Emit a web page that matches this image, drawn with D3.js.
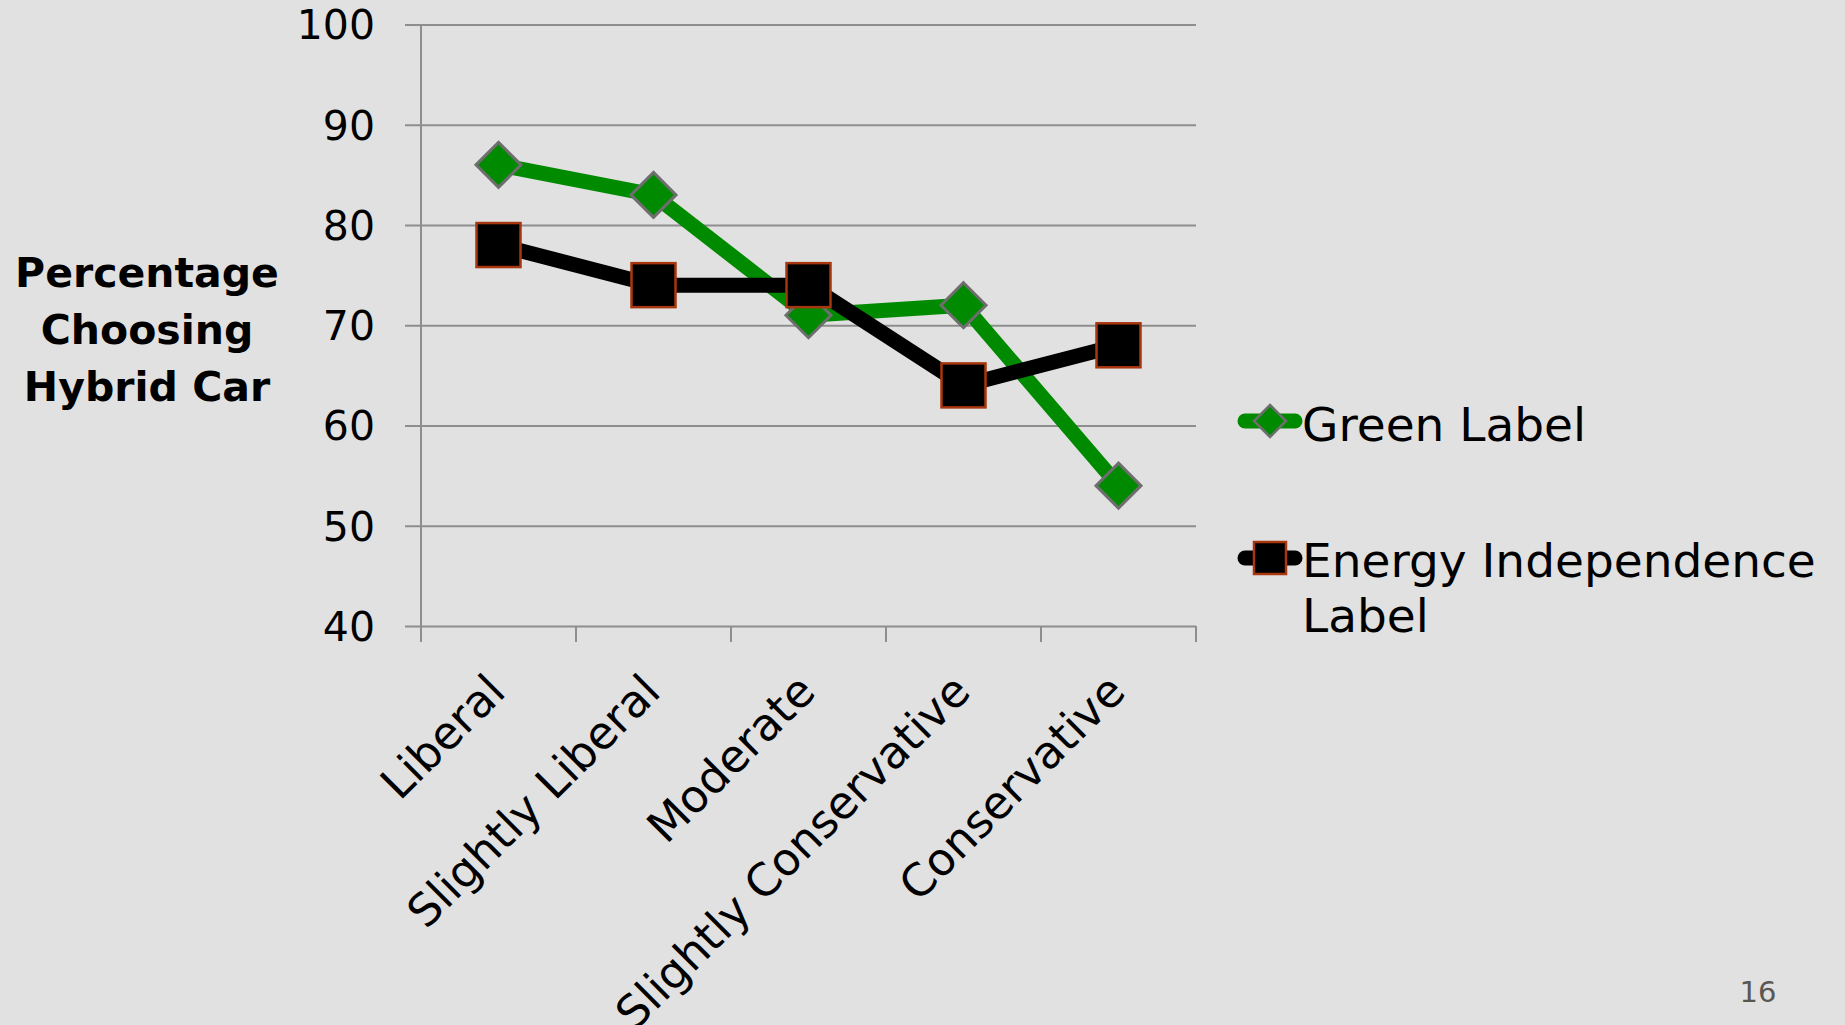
<!DOCTYPE html>
<html>
<head>
<meta charset="utf-8">
<script src="https://cdn.jsdelivr.net/npm/d3@7"></script>
<style>
  html, body { margin: 0; padding: 0; background: #e1e1e1; }
  svg { display: block; }
  text { font-family: "DejaVu Sans", sans-serif; fill: #000; }
</style>
</head>
<body>
<svg id="chart" width="1845" height="1025"></svg>
<script>
// Political leaning of respondents
const categories = ["Liberal", "Slightly Liberal", "Moderate", "Slightly Conservative", "Conservative"];
// Percentage choosing the hybrid car, by label shown
const greenLabel = [86, 83, 71, 72, 54];
const energyLabel = [78, 74, 74, 64, 68];
const yTicks = [40, 50, 60, 70, 80, 90, 100];
const seriesNames = ["Green Label", "Energy Independence Label"];
const axisTitle = ["Percentage", "Choosing", "Hybrid Car"];
const pageNumber = "16";

const svg = d3.select("#chart");
const W = 1845, H = 1025;

svg.append("rect").attr("width", W).attr("height", H).attr("fill", "#e1e1e1");

const plot = { left: 421, right: 1196, top: 24.5, bottom: 626 };

const x = d3.scaleBand().domain(categories).range([plot.left, plot.right]);
const y = d3.scaleLinear().domain([40, 100]).range([plot.bottom, plot.top]);
const cx = c => x(c) + x.bandwidth() / 2;

const gridColor = "#8e8e8e";

// horizontal gridlines with short ticks left of the axis
const yAxis = d3.axisLeft(y).tickValues(yTicks).tickSize(-(plot.right - plot.left + 16)).tickFormat("");
svg.append("g")
  .attr("transform", `translate(${plot.left - 16},0)`)
  .call(yAxis)
  .call(g => g.select(".domain").remove())
  .call(g => g.selectAll(".tick line").attr("stroke", gridColor).attr("stroke-width", 2));

// y tick labels
svg.append("g").selectAll("text").data(yTicks).join("text")
  .attr("x", 375).attr("y", d => y(d)).attr("dy", "0.36em")
  .attr("text-anchor", "end").attr("font-size", 41)
  .text(d => d);

// vertical axis line
svg.append("line")
  .attr("x1", plot.left).attr("x2", plot.left)
  .attr("y1", plot.top).attr("y2", plot.bottom + 16)
  .attr("stroke", gridColor).attr("stroke-width", 2);

// category axis: tick marks at band boundaries
const xTickPos = categories.map(c => x(c)).concat([plot.right]);
svg.append("g").selectAll("line").data(xTickPos).join("line")
  .attr("x1", d => d).attr("x2", d => d)
  .attr("y1", plot.bottom).attr("y2", plot.bottom + 16)
  .attr("stroke", gridColor).attr("stroke-width", 2);

// rotated category labels
svg.append("g").selectAll("text").data(categories).join("text")
  .attr("transform", d => `translate(${cx(d) + 9},694) rotate(-45)`)
  .attr("text-anchor", "end").attr("font-size", 45)
  .text(d => d);

// axis title
svg.append("g").selectAll("text").data(axisTitle).join("text")
  .attr("x", 147).attr("y", (d, i) => 287 + i * 57)
  .attr("text-anchor", "middle").attr("font-size", 41).attr("font-weight", "bold")
  .text(d => d);

const green = "#008a00";
const lineGen = d3.line().x((d, i) => cx(categories[i])).y(d => y(d));

const diamond = s => `M0,${-s}L${s},0L0,${s}L${-s},0Z`;

// green label series
svg.append("path").datum(greenLabel)
  .attr("d", lineGen).attr("fill", "none")
  .attr("stroke", green).attr("stroke-width", 15).attr("stroke-linejoin", "round");
svg.append("g").selectAll("path").data(greenLabel).join("path")
  .attr("transform", (d, i) => `translate(${cx(categories[i])},${y(d)})`)
  .attr("d", diamond(22.5))
  .attr("fill", green).attr("stroke", "#6e6e6e").attr("stroke-width", 3);

// energy independence label series
svg.append("path").datum(energyLabel)
  .attr("d", lineGen).attr("fill", "none")
  .attr("stroke", "#000").attr("stroke-width", 15).attr("stroke-linejoin", "round");
svg.append("g").selectAll("rect").data(energyLabel).join("rect")
  .attr("x", (d, i) => cx(categories[i]) - 22).attr("y", d => y(d) - 22)
  .attr("width", 44).attr("height", 44)
  .attr("fill", "#000").attr("stroke", "#a8360e").attr("stroke-width", 2.5);

// legend
const legend = svg.append("g");
const lg1 = legend.append("g").attr("transform", "translate(1270,421)");
lg1.append("line").attr("x1", -25).attr("x2", 25)
  .attr("stroke", green).attr("stroke-width", 15).attr("stroke-linecap", "round");
lg1.append("path").attr("d", diamond(16))
  .attr("fill", green).attr("stroke", "#6e6e6e").attr("stroke-width", 2.5);
legend.append("text").attr("x", 1302).attr("y", 441).attr("font-size", 47).text(seriesNames[0]);

const lg2 = legend.append("g").attr("transform", "translate(1270,558)");
lg2.append("line").attr("x1", -25).attr("x2", 25)
  .attr("stroke", "#000").attr("stroke-width", 15).attr("stroke-linecap", "round");
lg2.append("rect").attr("x", -16).attr("y", -16).attr("width", 32).attr("height", 32)
  .attr("fill", "#000").attr("stroke", "#a8360e").attr("stroke-width", 2.5);
const words = seriesNames[1].split(" ");
const t2 = legend.append("text").attr("x", 1302).attr("y", 577).attr("font-size", 47);
t2.append("tspan").attr("x", 1302).text(words.slice(0, 2).join(" "));
t2.append("tspan").attr("x", 1302).attr("dy", 55).text(words.slice(2).join(" "));

// slide number
svg.append("text").attr("x", 1758).attr("y", 1002).attr("text-anchor", "middle")
  .attr("font-size", 29).style("fill", "#5a5650").text(pageNumber);
</script>
</body>
</html>
